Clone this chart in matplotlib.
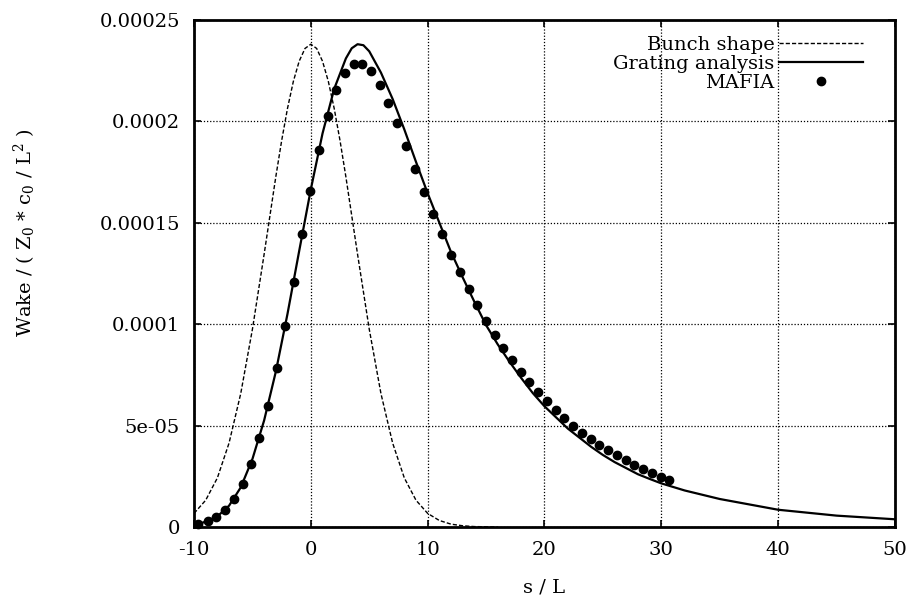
import numpy as np
import matplotlib
matplotlib.use("Agg")
import matplotlib.pyplot as plt

## values, y in units of 1e-5
bunch_s = [-10, -9, -8, -7, -6, -5, -4, -3, -2.5, -2, -1.5, -1, -0.5, 0,
           0.5, 1, 1.5, 2, 2.5, 3, 4, 5, 6, 7, 8, 9, 10, 11, 12, 13, 14, 15, 16]
bunch_w = [0.67, 1.32, 2.42, 4.14, 6.58, 9.75, 13.44, 17.26, 19.04, 20.63, 21.96, 22.96, 23.59, 23.8,
           23.59, 22.96, 21.96, 20.63, 19.04, 17.26, 13.44, 9.75, 6.58, 4.14, 2.42, 1.32, 0.67, 0.32, 0.14, 0.06, 0.02, 0.01, 0.0]

grating_s = [-10, -9, -8, -7, -6, -5, -4, -3, -2, -1, 0, 1, 2, 3, 3.5, 4, 4.5, 5, 6, 7, 8, 9, 10,
             11, 12, 13, 14, 15, 16, 17, 18, 19, 20, 21, 22, 23, 24, 25, 26, 27, 28, 29, 30,
             32, 35, 40, 45, 50]
grating_w = [0.05, 0.27, 0.52, 1.05, 1.95, 3.35, 5.25, 7.65, 10.5, 13.6, 16.65, 19.4, 21.6, 23.1, 23.6, 23.8, 23.75, 23.45, 22.4, 21.1, 19.6, 18.0, 16.45,
             15.0, 13.55, 12.3, 11.1, 9.95, 9.0, 8.15, 7.35, 6.6, 5.95, 5.4, 4.85, 4.4, 3.95, 3.55, 3.2, 2.9, 2.6, 2.37, 2.15,
             1.8, 1.38, 0.85, 0.56, 0.38]

mafia_s = [-9.63, -8.83, -8.12, -7.32, -6.58, -5.84, -5.15, -4.42, -3.70, -2.93,
           -2.20, -1.48, -0.74, -0.03, 0.71, 1.43, 2.16, 2.93, 3.70, 4.38,
           5.13, 5.90, 6.64, 7.41, 8.18, 8.91, 9.68, 10.45, 11.20, 11.97,
           12.74, 13.50, 14.25, 14.96, 15.73, 16.47, 17.20, 17.95, 18.70, 19.46,
           20.20, 20.95, 21.70, 22.45, 23.19, 23.96, 24.70, 25.44, 26.21, 26.95,
           27.69, 28.44, 29.21, 29.94, 30.68]
mafia_w = [0.13, 0.31, 0.48, 0.84, 1.36, 2.12, 3.12, 4.37, 5.96, 7.85,
           9.93, 12.1, 14.42, 16.57, 18.57, 20.26, 21.53, 22.38, 22.81, 22.81,
           22.46, 21.79, 20.9, 19.9, 18.78, 17.64, 16.49, 15.43, 14.42, 13.41,
           12.58, 11.74, 10.92, 10.15, 9.46, 8.83, 8.21, 7.62, 7.14, 6.66,
           6.21, 5.76, 5.35, 4.98, 4.62, 4.32, 4.04, 3.78, 3.53, 3.29,
           3.07, 2.87, 2.67, 2.48, 2.32]

xticks = [-10, 0, 10, 20, 30, 40, 50]
yticks = [0, 5e-05, 0.0001, 0.00015, 0.0002, 0.00025]
ytick_labels = ["0", "5e-05", "0.0001", "0.00015", "0.0002", "0.00025"]

plt.rcParams['font.family'] = 'DejaVu Serif'
plt.rcParams['mathtext.fontset'] = 'dejavuserif'
plt.rcParams['font.size'] = 14

fig = plt.figure(figsize=(9.1, 6.02), dpi=100)
ax = fig.add_axes([0.2132, 0.1246, 0.9835 - 0.2132, 0.967 - 0.1246])

scale = 1e-5
ax.plot(bunch_s, np.array(bunch_w) * scale, color='black', lw=1.0,
        dashes=(3, 1.5), label='Bunch shape')
ax.plot(grating_s, np.array(grating_w) * scale, color='black', lw=1.6,
        label='Grating analysis')
ax.plot(mafia_s, np.array(mafia_w) * scale, 'o', color='black', ms=6,
        clip_on=False, label='MAFIA')

ax.set_xlim(-10, 50)
ax.set_ylim(0, 0.00025)
ax.set_xticks(xticks)
ax.set_xticklabels([str(t) for t in xticks])
ax.set_yticks(yticks)
ax.set_yticklabels(ytick_labels)
ax.tick_params(direction='in', length=5, width=1.2, top=True, right=True,
               labelsize=14, pad=10)
ax.grid(True, color='black', linestyle=(0, (1, 1.5)), lw=0.9)
for sp in ax.spines.values():
    sp.set_linewidth(2)

ax.set_xlabel('s / L', fontsize=14, labelpad=14)
ax.set_ylabel(r'Wake / ( Z$_0$ * c$_0$ / L$^2$ )', fontsize=14)
ax.yaxis.set_label_coords(-0.222, 0.58)

leg = ax.legend(loc='upper right', bbox_to_anchor=(0.954, 0.969), frameon=False,
                markerfirst=False, borderpad=0, borderaxespad=0,
                handlelength=4.3, handletextpad=0.25, labelspacing=0.05,
                fontsize=14)
for t in leg.get_texts():
    t.set_ha('right')

fig.savefig('out.png', dpi=100)
